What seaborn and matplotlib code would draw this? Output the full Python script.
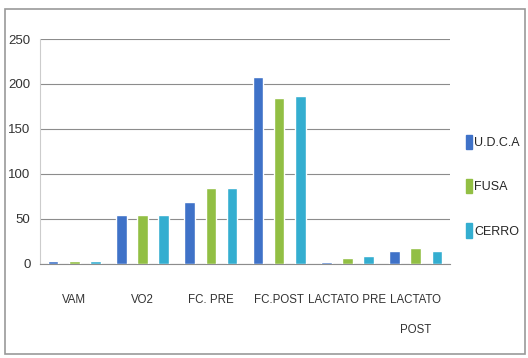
import matplotlib.pyplot as plt
import matplotlib.patches as mpatches
import seaborn as sns
import numpy as np
import pandas as pd

categories = ['VAM', 'VO2', 'FC. PRE', 'FC.POST', 'LACTATO PRE', 'LACTATO\nPOST']
groups = ['U.D.C.A', 'FUSA', 'CERRO']
udca = [3, 54, 69, 208, 2, 14]
fusa = [3, 54, 84, 184, 6, 18]
cerro = [3, 54, 84, 187, 9, 14]
colors = ['#3F72C8', '#92BF44', '#34AED0']

df = pd.DataFrame({
    'categoria': categories * 3,
    'grupo': np.repeat(groups, len(categories)),
    'valor': udca + fusa + cerro,
})

sns.set_style('white')
plt.rcParams['font.family'] = ['Liberation Sans', 'DejaVu Sans']

fig = plt.figure(figsize=(5.28, 3.58), dpi=100)
ax = fig.add_axes([0.076, 0.263, 0.776, 0.628])

sns.barplot(data=df, x='categoria', y='valor', hue='grupo', palette=colors,
            saturation=1, width=0.93, gap=0.5, ax=ax, legend=False, zorder=3)

ax.set_ylim(0, 250)
ax.set_xlim(-0.5, len(categories) - 0.5)
ax.set_yticks(range(0, 251, 50))
ax.grid(axis='y', color='#8c8c8c', linewidth=0.8, zorder=0)
ax.set_xlabel('')
ax.set_ylabel('')
ax.tick_params(axis='y', labelsize=9.5, length=0, pad=7, colors='#333333')
ax.tick_params(axis='x', labelsize=8.3, length=0, pad=22, colors='#333333')
for lbl in ax.get_xticklabels():
    lbl.set_linespacing(2.9)
ax.set_xticks(np.arange(-0.5, len(categories)), minor=True)
ax.tick_params(axis='x', which='minor', length=4, color='#aaaaaa')
for s in ['top', 'right']:
    ax.spines[s].set_visible(False)
ax.spines['left'].set_color('#cccccc')
ax.spines['bottom'].set_color('#8c8c8c')

handles = [mpatches.Patch(color=c, label=g) for c, g in zip(colors, groups)]
fig.legend(handles=handles, loc='center left', bbox_to_anchor=(0.87, 0.48),
           frameon=False, fontsize=9, handlelength=0.5, handleheight=1.4,
           handletextpad=0.2, labelspacing=2.4, borderpad=0)

fig.patches.append(mpatches.Rectangle((0.01, 0.01), 0.985, 0.965, transform=fig.transFigure,
                                      fill=False, edgecolor='#999999', linewidth=1.2))

fig.savefig('out.png', dpi=100)
